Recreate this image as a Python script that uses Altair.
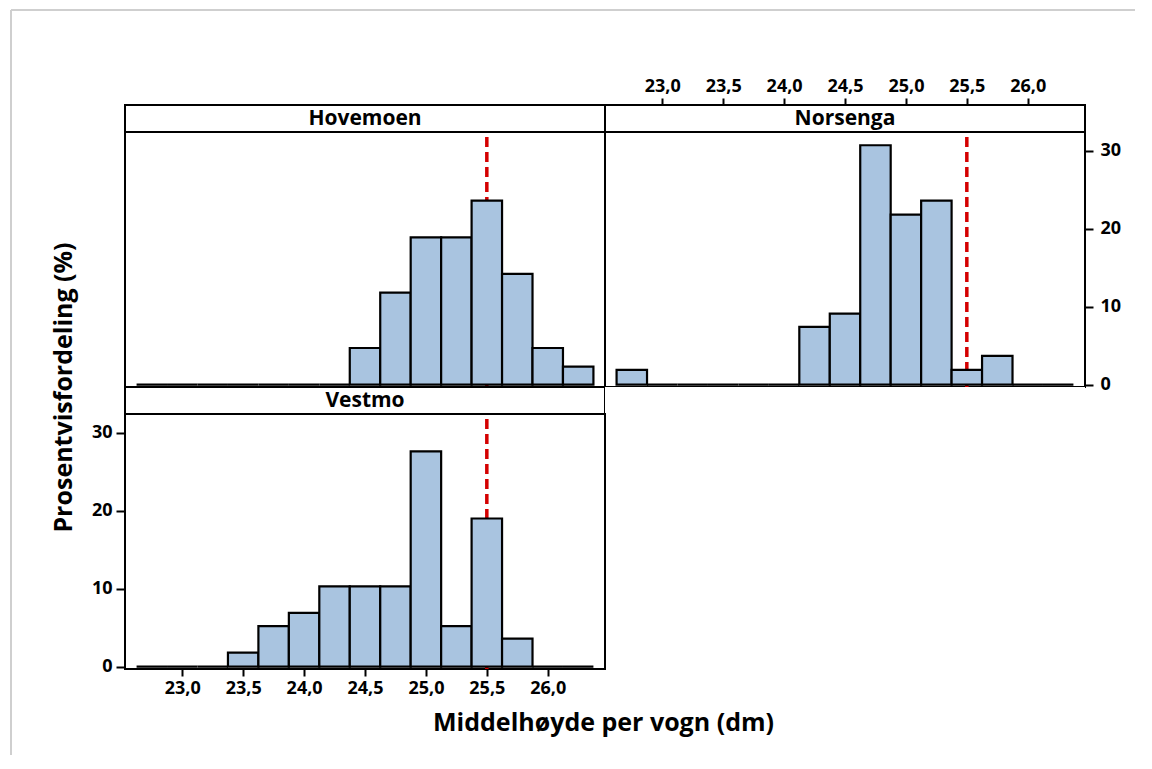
import altair as alt
import pandas as pd

# ---------------- data ----------------
bin_centers = [22.75, 23.0, 23.25, 23.5, 23.75, 24.0, 24.25, 24.5,
               24.75, 25.0, 25.25, 25.5, 25.75, 26.0, 26.25]
hovemoen_pct = [0, 0, 0, 0, 0, 0, 0, 4.7, 11.8, 18.9, 18.9, 23.6, 14.2, 4.7, 2.3]
norsenga_pct = [1.9, 0, 0, 0, 0, 0, 7.4, 9.1, 30.7, 21.8, 23.6, 1.9, 3.7, 0, 0]
vestmo_pct = [0, 0, 0, 1.8, 5.2, 6.9, 10.3, 10.3, 10.3, 27.6, 5.2, 19.0, 3.6, 0, 0]
bin_width = 0.25
reference_value = [25.5]
x_ticks = [23.0, 23.5, 24.0, 24.5, 25.0, 25.5, 26.0]
y_ticks = [0, 10, 20, 30]

FONT = "Open Sans"
FILL = "#A9C4E0"
RED = "#D40000"
W, HS, HP = 480, 27, 255

xs = alt.Scale(domain=[22.53, 26.47], nice=False, zero=False)
ys = alt.Scale(domain=[-0.3, 32.4], nice=False, zero=False)

label_expr = "replace(format(datum.value, '.1f'), '.', ',')"


def panel_df(vals):
    return pd.DataFrame({
        "start": [c - bin_width / 2 for c in bin_centers],
        "end": [c + bin_width / 2 for c in bin_centers],
        "pct": vals,
    })


ref_df = pd.DataFrame({"start": reference_value})

common_axis = dict(domain=False, grid=False, tickColor="black", tickWidth=2,
                   labelFont=FONT, labelFontSize=18, labelFontWeight="bold",
                   labelColor="black", titleFont=FONT, titleColor="black",
                   titleFontSize=25, titleFontWeight="bold")


def plot_panel(vals, x_axis=None, y_axis=None):
    xe = alt.X("start:Q", scale=xs, axis=x_axis)
    rule = alt.Chart(ref_df).mark_rule(
        color=RED, strokeWidth=3.5, strokeDash=[10, 5], strokeDashOffset=10
    ).encode(x=xe)
    bars = alt.Chart(panel_df(vals)).mark_bar(
        fill=FILL, stroke="black", strokeWidth=2.2, strokeJoin="miter"
    ).encode(
        x=xe,
        x2="end:Q",
        y=alt.Y("pct:Q", scale=ys, stack=None, axis=y_axis),
        y2=alt.datum(0),
    )
    return alt.layer(rule, bars).properties(width=W, height=HP)


def strip(name, x_axis=None, extra=None):
    txt = alt.Chart(pd.DataFrame({"name": [name]})).mark_text(
        font=FONT, fontSize=21, fontWeight="bold", color="black",
        baseline="middle", align="center"
    ).encode(x=alt.value(W / 2), y=alt.value(HS / 2 + 0.5), text="name:N")
    layers = [txt]
    if x_axis is not None:
        ax = alt.Chart(pd.DataFrame({"start": x_ticks})).mark_point(opacity=0).encode(
            x=alt.X("start:Q", scale=xs, axis=x_axis)
        )
        layers.append(ax)
    if extra is not None:
        layers.extend(extra)
    return alt.layer(*layers).properties(width=W, height=HS)


# light grey frame lines at top/left of the picture
frame_df = pd.DataFrame({"k": [0]})
frame_left = alt.Chart(frame_df).mark_rule(color="#CFCFCF", strokeWidth=2).encode(
    x=alt.value(-114), y=alt.value(-95), y2=alt.value(650))
frame_top = alt.Chart(frame_df).mark_rule(color="#CFCFCF", strokeWidth=2).encode(
    x=alt.value(-114), x2=alt.value(1010), y=alt.value(-95))

top_axis = alt.Axis(orient="top", values=x_ticks, labelExpr=label_expr,
                    tickSize=7, labelPadding=3, title=None, **common_axis)
bottom_axis = alt.Axis(orient="bottom", values=x_ticks, labelExpr=label_expr,
                       tickSize=7, labelPadding=3,
                       title="Middelhøyde per vogn (dm)",
                       titleX=478, titleY=61, titleAlign="center",
                       titleBaseline="alphabetic", **common_axis)
right_axis = alt.Axis(orient="right", values=y_ticks, tickSize=8,
                      labelPadding=7, title=None, **common_axis)
left_axis = alt.Axis(orient="left", values=y_ticks, tickSize=9,
                     labelPadding=4,
                     title="Prosentvisfordeling (%)",
                     titleX=-62, titleY=-27, titleAngle=-90,
                     titleAlign="center", titleBaseline="middle",
                     **common_axis)

strip_h = strip("Hovemoen", extra=[frame_left, frame_top])
strip_n = strip("Norsenga", x_axis=top_axis)
plot_h = plot_panel(hovemoen_pct)
plot_n = plot_panel(norsenga_pct, y_axis=right_axis)
strip_v = strip("Vestmo")
blank = alt.Chart(frame_df).mark_point(opacity=0).encode(
    x=alt.value(0), y=alt.value(0)
).properties(width=W, height=HS, view=alt.ViewBackground(stroke="transparent"))
plot_v = plot_panel(vestmo_pct, x_axis=bottom_axis, y_axis=left_axis)

chart = alt.concat(
    strip_h, strip_n, plot_h, plot_n, strip_v, blank, plot_v,
    columns=2, spacing=0, bounds="flush"
).properties(
    padding={"left": 1, "top": 0, "right": 0, "bottom": 0},
    background="white",
).configure_view(
    stroke="black", strokeWidth=2, fill="white"
)

chart.save("out.html", embed_options={"renderer": "svg", "actions": False})
